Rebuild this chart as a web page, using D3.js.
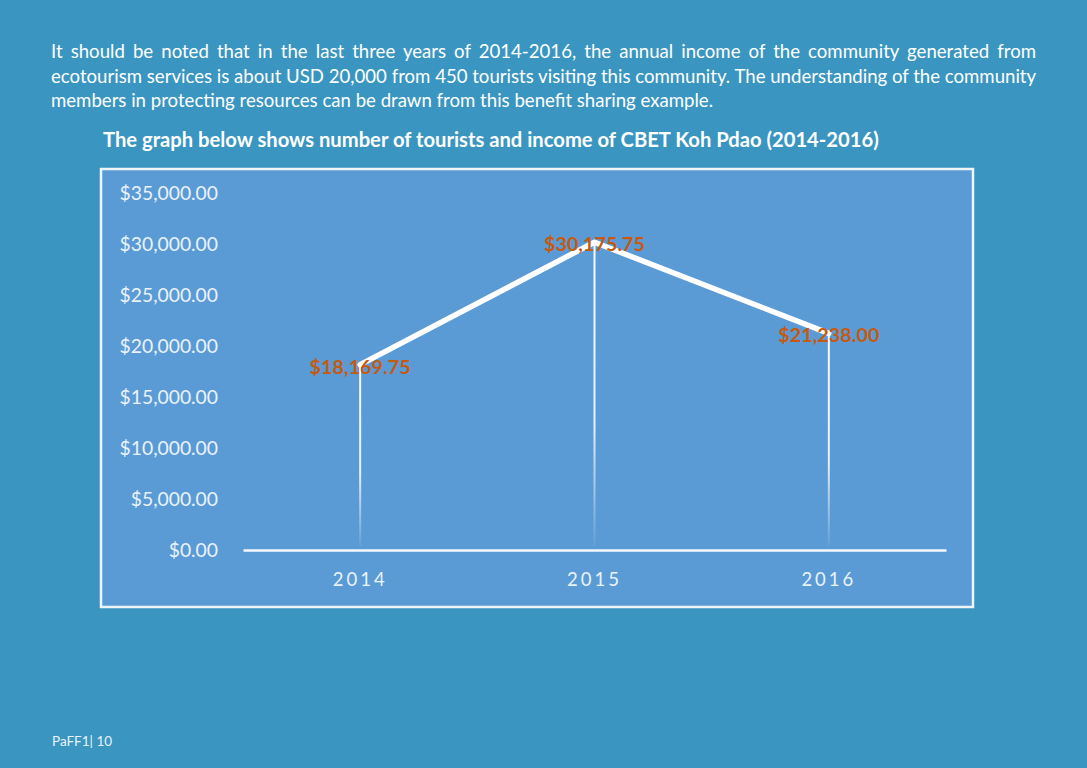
<!DOCTYPE html>
<html><head><meta charset="utf-8">
<script src="https://cdn.jsdelivr.net/npm/d3@7"></script>
<style>
html,body{margin:0;padding:0;}
body{width:1087px;height:768px;background:#3a96c1;position:relative;overflow:hidden;font-family:Lato,"Open Sans",sans-serif;color:#fff;}
.para{position:absolute;left:51px;width:985px;font-size:18.6px;}
.para div{height:24.5px;line-height:24.5px;text-align:justify;text-align-last:justify;white-space:nowrap;}
.para div.last{text-align-last:left;}
.title{position:absolute;left:103px;top:127px;font-size:20.2px;font-weight:bold;white-space:nowrap;}
.footer{position:absolute;left:52px;top:733px;font-size:13.5px;color:#e8f2f8;}
svg{position:absolute;left:0;top:0;}
</style></head>
<body>
<div class="para" style="top:39px">
<div>It should be noted that in the last three years of 2014-2016, the annual income of the community generated from</div>
<div>ecotourism services is about USD 20,000 from 450 tourists visiting this community. The understanding of the community</div>
<div class="last">members in protecting resources can be drawn from this benefit sharing example.</div>
</div>
<div class="title">The graph below shows number of tourists and income of CBET Koh Pdao (2014-2016)</div>
<div class="footer">PaFF1| 10</div>
<svg id="chart" width="1087" height="768"></svg>
<script>
const years = ["2014", "2015", "2016"];
const income = [18169.75, 30175.75, 21238.00];
const yTicks = [0, 5000, 10000, 15000, 20000, 25000, 30000, 35000];

const svg = d3.select("#chart");
const defs = svg.append("defs");
const grad = defs.append("linearGradient").attr("id","fade").attr("x1",0).attr("y1",0).attr("x2",0).attr("y2",1);
grad.append("stop").attr("offset","0%").attr("stop-color","#fff").attr("stop-opacity",0.95);
grad.append("stop").attr("offset","60%").attr("stop-color","#fff").attr("stop-opacity",0.85);
grad.append("stop").attr("offset","100%").attr("stop-color","#fff").attr("stop-opacity",0.05);

// chart frame
svg.append("rect").attr("x",101).attr("y",169).attr("width",872).attr("height",438)
  .attr("fill","#5b9bd5").attr("stroke","#eef4fa").attr("stroke-width",2.5);

const x = d3.scaleBand().domain(years).range([243, 946]);
const y = d3.scaleLinear().domain([0, 35000]).range([550, 193]);

const fmt = d3.format("$,.2f");

// y axis labels
const yAxis = d3.axisLeft(y).tickValues(yTicks).tickFormat(fmt).tickSize(0).tickPadding(0);
const gy = svg.append("g").attr("transform","translate(218,0)").call(yAxis);
gy.select(".domain").remove();
gy.selectAll("text").attr("fill","#eaf2fa").attr("font-size","19.3px").attr("font-family","Lato, sans-serif").attr("dy","0.32em");

// x axis
const xAxis = d3.axisBottom(x).tickSize(0).tickPadding(0);
const gx = svg.append("g").attr("transform","translate(0,550)").call(xAxis);
gx.select(".domain").attr("stroke","#f4f8fc").attr("stroke-width",2.5);
gx.selectAll("text").attr("fill","#eaf2fa").attr("font-size","18.5px").attr("font-family","Lato, sans-serif")
  .attr("letter-spacing","3px").attr("dy","36px");

const cx = d => x(d) + x.bandwidth()/2;

// drop lines
svg.append("g").selectAll("rect").data(years).join("rect")
  .attr("x",(d)=>cx(d)-1).attr("width",2)
  .attr("y",(d,i)=>y(income[i])).attr("height",(d,i)=>y(0)-4-y(income[i]))
  .attr("fill","url(#fade)");

// line
const line = d3.line().x((d,i)=>cx(years[i])).y(d=>y(d));
svg.append("path").datum(income).attr("d",line).attr("fill","none")
  .attr("stroke","#fff").attr("stroke-width",5.5).attr("stroke-linejoin","round").attr("stroke-linecap","round");

// labels
svg.append("g").selectAll("text").data(income).join("text")
  .attr("x",(d,i)=>cx(years[i])).attr("y",d=>y(d)+2).attr("dy","0.35em")
  .attr("text-anchor","middle").attr("fill","#c55a11").attr("font-weight","bold")
  .attr("font-size","19.8px").attr("font-family","Lato, sans-serif")
  .text(d=>fmt(d));
</script>
</body></html>
